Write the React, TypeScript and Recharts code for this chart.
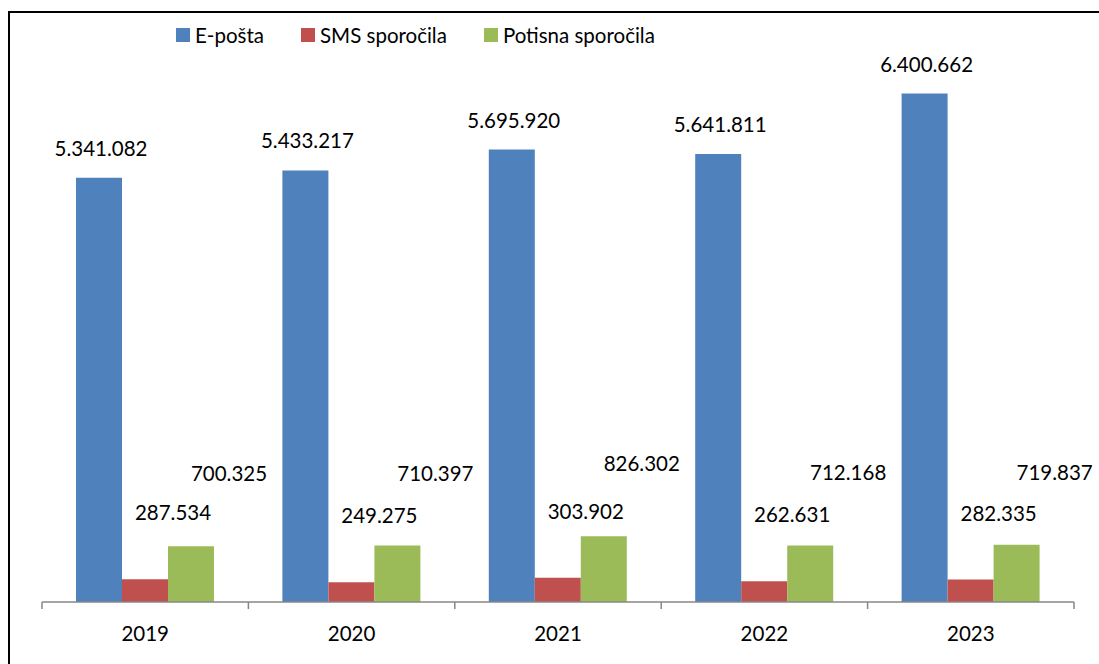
import { Bar, BarChart, LabelList, XAxis, YAxis } from "recharts";

const YEARS = ["2019", "2020", "2021", "2022", "2023"];
const EMAIL = [5341082, 5433217, 5695920, 5641811, 6400662];
const SMS = [287534, 249275, 303902, 262631, 282335];
const PUSH = [700325, 710397, 826302, 712168, 719837];

const SERIES = [
  { key: "email", name: "E-pošta", color: "#4F81BD" },
  { key: "sms", name: "SMS sporočila", color: "#C0504D" },
  { key: "push", name: "Potisna sporočila", color: "#9BBB59" },
];

const data = YEARS.map((year, i) => ({
  year,
  email: EMAIL[i],
  sms: SMS[i],
  push: PUSH[i],
}));

const WIDTH = 1099;
const HEIGHT = 664;
const MARGIN = { top: 46, right: 25, left: 42, bottom: 22 };
const BAND = (WIDTH - MARGIN.left - MARGIN.right) / YEARS.length;
const FONT = "Lato, 'Open Sans', sans-serif";

const fmt = (v: number) => String(v).replace(/\B(?=(\d{3})+(?!\d))/g, ".");

function makeLabel(dx: number, lift: number) {
  return (props: any) => {
    const { x, y, width, value } = props;
    return (
      <text
        x={Number(x) + Number(width) / 2 + dx}
        y={Number(y) - lift}
        textAnchor="middle"
        dominantBaseline="central"
        fontSize={20.5}
        fontFamily={FONT}
        fill="#000"
      >
        {fmt(Number(value))}
      </text>
    );
  };
}

function YearTick(props: any) {
  const { x, y, payload, index } = props;
  const left = x - BAND / 2;
  return (
    <g>
      <line x1={left} x2={left} y1={y} y2={y + 7} stroke="#878787" strokeWidth={1.5} />
      {index === YEARS.length - 1 && (
        <line x1={x + BAND / 2} x2={x + BAND / 2} y1={y} y2={y + 7} stroke="#878787" strokeWidth={1.5} />
      )}
      <text
        x={x}
        y={y + 31}
        textAnchor="middle"
        dominantBaseline="central"
        fontSize={20.5}
        fontFamily={FONT}
        fill="#000"
      >
        {payload.value}
      </text>
    </g>
  );
}

function ChartLegend() {
  return (
    <div
      style={{
        position: "absolute",
        left: 176,
        top: 23,
        display: "flex",
        alignItems: "center",
        fontFamily: FONT,
        fontSize: 20.5,
        color: "#000",
      }}
    >
      {SERIES.map((s, i) => (
        <div
          key={s.key}
          style={{ display: "flex", alignItems: "center", marginLeft: i === 0 ? 0 : 37 }}
        >
          <span
            style={{ width: 14, height: 14, background: s.color, display: "inline-block", marginRight: 5 }}
          />
          <span>{s.name}</span>
        </div>
      ))}
    </div>
  );
}

export default function App() {
  return (
    <div
      style={{
        position: "fixed",
        left: 0,
        top: 0,
        width: WIDTH,
        height: HEIGHT,
        overflow: "hidden",
        background: "#fff",
      }}
    >
      <div
        style={{
          position: "absolute",
          left: 8,
          top: 11,
          width: 1200,
          height: 800,
          border: "2px solid #000",
        }}
      />
      <ChartLegend />
      <div style={{ position: "absolute", left: 0, top: 0 }}>
        <BarChart
          width={WIDTH}
          height={HEIGHT}
          data={data}
          margin={MARGIN}
          barGap={0}
          barSize={46}
        >
          <XAxis
            dataKey="year"
            height={40}
            axisLine={{ stroke: "#878787", strokeWidth: 1.5 }}
            tickLine={false}
            tickSize={0}
            tickMargin={0}
            tick={<YearTick />}
            interval={0}
          />
          <YAxis hide domain={[0, 7000000]} />
          <Bar dataKey="email" name="E-pošta" fill="#4F81BD" isAnimationActive={false}>
            <LabelList dataKey="email" content={makeLabel(2, 30)} />
          </Bar>
          <Bar dataKey="sms" name="SMS sporočila" fill="#C0504D" isAnimationActive={false}>
            <LabelList dataKey="sms" content={makeLabel(28, 67)} />
          </Bar>
          <Bar dataKey="push" name="Potisna sporočila" fill="#9BBB59" isAnimationActive={false}>
            <LabelList dataKey="push" content={makeLabel(38, 73)} />
          </Bar>
        </BarChart>
      </div>
    </div>
  );
}
